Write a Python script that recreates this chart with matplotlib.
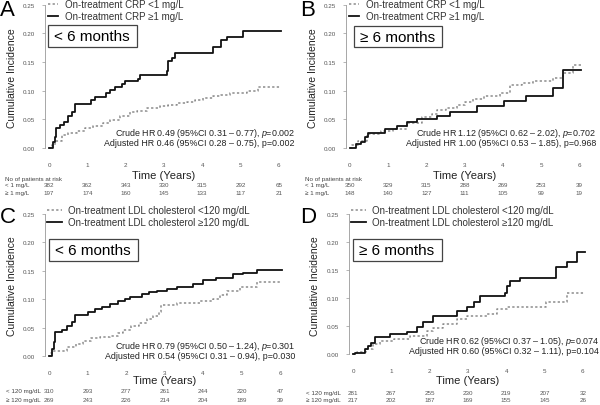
import matplotlib
matplotlib.use("Agg")
from matplotlib import pyplot as plt
from matplotlib import transforms
from matplotlib.patches import Rectangle

plt.rcParams['font.family'] = ['Liberation Sans', 'DejaVu Sans']
plt.rcParams['mathtext.fontset'] = 'custom'
plt.rcParams['mathtext.it'] = 'Liberation Sans:italic'
plt.rcParams['mathtext.rm'] = 'Liberation Sans'

# ---- data ----
years = [0, 1, 2, 3, 4, 5, 6]

a_hi_t = [0, 0.1, 0.15, 0.18, 0.3, 0.4, 0.5, 0.6, 0.68, 1.1, 1.2, 1.5, 1.6, 1.72, 1.9, 1.98, 2.33, 2.38,
          3.07, 3.1, 3.2, 3.29, 4.29, 4.5, 4.64, 5.07, 6.05]
a_hi_v = [0, 0.01, 0.02, 0.034, 0.04, 0.045, 0.055, 0.063, 0.077, 0.083, 0.089, 0.096, 0.101, 0.106, 0.111,
          0.116, 0.121, 0.128, 0.135, 0.151, 0.157, 0.165, 0.176, 0.188, 0.194, 0.203, 0.203]
a_lo_t = [0, 0.08, 0.15, 0.33, 0.5, 0.72, 0.95, 1.16, 1.4, 1.59, 1.85, 2.11, 2.3, 2.55, 2.9, 3.1, 3.33,
          3.6, 3.8, 4.03, 4.29, 4.5, 4.73, 5.17, 5.46, 6.05]
a_lo_v = [0, 0.006, 0.012, 0.022, 0.026, 0.03, 0.034, 0.039, 0.044, 0.048, 0.055, 0.062, 0.064, 0.07,
          0.073, 0.075, 0.078, 0.081, 0.084, 0.087, 0.09, 0.093, 0.096, 0.1, 0.107, 0.107]

b_hi_t = [0, 0.17, 0.3, 0.39, 0.48, 0.92, 1.22, 1.48, 1.75, 2.27, 2.62, 3.32, 4.02, 4.62, 5.32, 5.58, 6.04]
b_hi_v = [0, 0.007, 0.011, 0.019, 0.027, 0.033, 0.039, 0.045, 0.05, 0.056, 0.063, 0.073, 0.082, 0.09,
          0.104, 0.136, 0.136]
b_lo_t = [0, 0.05, 0.2, 0.44, 0.8, 1.13, 1.5, 1.88, 2.14, 2.27, 2.5, 2.79, 3.0, 3.23, 3.5, 3.93, 4.19,
          4.5, 4.8, 5.32, 5.58, 5.85, 6.05]
b_lo_v = [0, 0.005, 0.012, 0.025, 0.029, 0.033, 0.043, 0.054, 0.06, 0.066, 0.069, 0.075, 0.08, 0.086,
          0.09, 0.095, 0.109, 0.113, 0.117, 0.122, 0.13, 0.144, 0.144]

c_hi_t = [0, 0.08, 0.12, 0.16, 0.33, 0.46, 0.59, 0.68, 1.02, 1.2, 1.37, 1.58, 1.8, 1.98, 2.1, 2.41, 2.6,
          2.8, 3.06, 3.32, 3.75, 4.01, 4.35, 4.79, 5.05, 5.39, 6.05]
c_hi_v = [0, 0.012, 0.024, 0.042, 0.045, 0.053, 0.059, 0.072, 0.077, 0.082, 0.087, 0.092, 0.096, 0.1,
          0.104, 0.109, 0.112, 0.115, 0.118, 0.122, 0.127, 0.133, 0.138, 0.144, 0.147, 0.152, 0.152]
c_lo_t = [0, 0.05, 0.1, 0.46, 0.7, 0.89, 1.1, 1.32, 1.58, 1.8, 1.93, 2.14, 2.35, 2.54, 2.7, 2.85, 2.9,
          3.32, 3.92, 4.26, 4.45, 4.62, 4.96, 5.39, 6.05]
c_lo_v = [0, 0.005, 0.009, 0.015, 0.022, 0.027, 0.031, 0.033, 0.035, 0.04, 0.045, 0.053, 0.058, 0.065,
          0.07, 0.077, 0.089, 0.093, 0.097, 0.1, 0.108, 0.115, 0.122, 0.13, 0.13]

d_hi_t = [0, 0.05, 0.31, 0.4, 0.48, 0.57, 0.97, 1.4, 1.66, 1.84, 2.1, 2.71, 2.97, 3.15, 3.32, 3.97, 4.02,
          4.1, 4.36, 5.3, 5.58, 5.84, 6.06]
d_hi_v = [0, 0.003, 0.009, 0.015, 0.021, 0.03, 0.036, 0.04, 0.048, 0.057, 0.068, 0.078, 0.085, 0.094,
          0.104, 0.11, 0.122, 0.131, 0.136, 0.156, 0.164, 0.182, 0.182]
d_lo_t = [0, 0.1, 0.35, 0.52, 0.71, 1.06, 1.49, 1.92, 2.1, 2.35, 2.71, 2.97, 3.49, 3.75, 4.01, 5.05,
          5.58, 6.06]
d_lo_v = [0, 0.004, 0.01, 0.019, 0.024, 0.028, 0.032, 0.042, 0.047, 0.054, 0.063, 0.069, 0.072, 0.08,
          0.085, 0.093, 0.109, 0.109]

a_risk_lo = [382, 362, 343, 330, 315, 292, 65]
a_risk_hi = [197, 174, 160, 145, 133, 117, 21]
b_risk_lo = [350, 329, 315, 288, 269, 253, 39]
b_risk_hi = [148, 140, 127, 111, 105, 99, 19]
c_risk_lo = [310, 293, 277, 261, 244, 220, 47]
c_risk_hi = [269, 243, 226, 214, 204, 189, 39]
d_risk_lo = [281, 267, 255, 230, 219, 207, 32]
d_risk_hi = [217, 202, 187, 169, 155, 145, 26]

crp_labels = ['On-treatment CRP <1 mg/L', 'On-treatment CRP \u22651 mg/L']
ldl_labels = ['On-treatment LDL cholesterol <120 mg/dL', 'On-treatment LDL cholesterol \u2265120 mg/dL']
crp_rows = ['< 1 mg/L', '\u2265 1 mg/L']
ldl_rows = ['< 120 mg/dL', '\u2265 120 mg/dL']

hr_text = {
    'A': ['Crude HR 0.49 (95%CI 0.31 \u2013 0.77), $\\it{p}$=0.002', 'Adjusted HR 0.46 (95%CI 0.28 \u2013 0.75), p=0.002'],
    'B': ['Crude HR 1.12 (95%CI 0.62 \u2013 2.02), $\\it{p}$=0.702', 'Adjusted HR 1.00 (95%CI 0.53 \u2013 1.85), p=0.968'],
    'C': ['Crude HR 0.79 (95%CI 0.50 \u2013 1.24), $\\it{p}$=0.301', 'Adjusted HR 0.54 (95%CI 0.31 \u2013 0.94), p=0.030'],
    'D': ['Crude HR 0.62 (95%CI 0.37 \u2013 1.05), $\\it{p}$=0.074', 'Adjusted HR 0.60 (95%CI 0.32 \u2013 1.11), p=0.104'],
}

W, H = 600, 406
fig = plt.figure(figsize=(6, 4.06), dpi=100)


def fx(px):
    return px / W


def fy(py):
    return 1 - py / H


def panel(letter, x0, ppy, y0, ppu, hi, lo, labels, box, rows, risk, layout):
    # x0: pixel of t=0, ppy: pixels/year, y0: pixel of 0.00, ppu: pixels per unit
    left = x0 - 0.1 * ppy
    width = 6.2 * ppy
    top = y0 - 0.255 * ppu
    bottom = y0 + 0.005 * ppu
    ax = fig.add_axes([fx(left), fy(bottom), width / W, (bottom - top) / H])
    ax.set_xlim(-0.1, 6.1)
    ax.set_ylim(-0.005, 0.255)

    ax.step(lo[0], lo[1], where='post', color='#8c8c8c', lw=1.1, ls=(0, (1.5, 1.5)), label=labels[0])
    ax.step(hi[0], hi[1], where='post', color='#111111', lw=1.3, label=labels[1])

    for s in ['top', 'right', 'bottom']:
        ax.spines[s].set_visible(False)
    ax.spines['left'].set_color('#999999')
    ax.spines['left'].set_linewidth(0.6)
    ax.spines['left'].set_bounds(0, 0.25)
    ax.set_yticks([0, 0.05, 0.10, 0.15, 0.20, 0.25])
    ax.set_yticklabels(['0.00', '0.05', '0.10', '0.15', '0.20', '0.25'])
    ax.set_xticks(years)
    ax.tick_params(axis='y', labelsize=4.5, labelcolor='#555555', length=2, width=0.5,
                   color='#999999', pad=5)
    ax.tick_params(axis='x', labelsize=4.5, labelcolor='#555555', length=0, pad=layout['xpad'])
    ax.patch.set_alpha(0)

    ax.legend(loc='upper left', bbox_to_anchor=(fx(layout['leg_x']), fy(layout['leg_y'])),
              bbox_transform=fig.transFigure, frameon=False, fontsize=7,
              handlelength=layout['hl'], handletextpad=0.7, labelspacing=0.25,
              borderpad=0, borderaxespad=0, labelcolor='#333333')

    # panel letter
    fig.text(fx(layout['let_x']), fy(layout['let_y']), letter, fontsize=16, va='top', ha='left')

    # subgroup box
    bx0, by0, bx1, by1 = layout['box']
    fig.patches.append(Rectangle((fx(bx0), fy(by1)), (bx1 - bx0) / W, (by1 - by0) / H,
                                 transform=fig.transFigure, fill=False, ec='#444444', lw=0.9))
    fig.text(fx(bx0 + 6), fy((by0 + by1) / 2), box, fontsize=11, va='center', ha='left')

    # y label
    fig.text(fx(layout['ylab_x']), fy((top + y0) / 2 + 2), 'Cumulative Incidence', rotation=90,
             fontsize=7.5, va='center', ha='center', color='#222222')
    # x label
    fig.text(fx(x0 + 3 * ppy), fy(layout['xlab_y']), 'Time (Years)', fontsize=8,
             va='center', ha='center', color='#222222')

    # hazard ratio text
    for k, line in enumerate(hr_text[letter]):
        fig.text(fx(layout['hr_x']), fy(layout['hr_y'][k]), line, fontsize=6.4, ha='right',
                 va='center', color='#222222')

    # numbers at risk
    tr = transforms.blended_transform_factory(ax.transData, fig.transFigure)
    if layout['risk_title']:
        fig.text(fx(layout['row_x']), fy(layout['title_y']), 'No of patients at risk',
                 fontsize=4.5, va='center', ha='left', color='#444444')
    for r in range(2):
        fig.text(fx(layout['row_x']), fy(layout['rows_y'][r]), rows[r], fontsize=4.5,
                 va='center', ha='left', color='#444444')
        for yr, n in zip(years, risk[r]):
            ax.text(yr, fy(layout['rows_y'][r]), str(n), transform=tr, fontsize=4.5,
                    va='center', ha='center', color='#555555', clip_on=False)
    return ax


panel('A', 49, 38.3, 149, 574, (a_hi_t, a_hi_v), (a_lo_t, a_lo_v), crp_labels, '< 6 months',
      crp_rows, (a_risk_lo, a_risk_hi),
      dict(xpad=8, leg_x=48, leg_y=0, hl=1.0, let_x=0, let_y=0, box=(48, 26, 137, 48),
           ylab_x=12, xlab_y=176, hr_x=295, hr_y=(133, 143.5), risk_title=True, row_x=5,
           title_y=179, rows_y=(186, 193.5)))
panel('B', 350, 38.2, 149, 574, (b_hi_t, b_hi_v), (b_lo_t, b_lo_v), crp_labels, '\u2265 6 months',
      crp_rows, (b_risk_lo, b_risk_hi),
      dict(xpad=8, leg_x=349, leg_y=0, hl=1.0, let_x=300, let_y=0, box=(354, 27, 442, 48),
           ylab_x=313, xlab_y=176, hr_x=596, hr_y=(133, 143.5), risk_title=True, row_x=305,
           title_y=179, rows_y=(186, 193.5)))
panel('C', 49, 38.5, 357, 568, (c_hi_t, c_hi_v), (c_lo_t, c_lo_v), ldl_labels, '< 6 months',
      ldl_rows, (c_risk_lo, c_risk_hi),
      dict(xpad=8, leg_x=47, leg_y=206, hl=1.5, let_x=0, let_y=207, box=(49, 240, 138, 262),
           ylab_x=12, xlab_y=381, hr_x=295, hr_y=(346.5, 357), risk_title=False, row_x=6,
           rows_y=(391.5, 400.5)))
panel('D', 353, 38.3, 355.3, 561, (d_hi_t, d_hi_v), (d_lo_t, d_lo_v), ldl_labels, '\u2265 6 months',
      ldl_rows, (d_risk_lo, d_risk_hi),
      dict(xpad=8, leg_x=351, leg_y=206, hl=1.5, let_x=300, let_y=207, box=(353, 240, 442, 262),
           ylab_x=315, xlab_y=381, hr_x=599, hr_y=(341.5, 352), risk_title=False, row_x=306,
           rows_y=(394, 401)))

plt.savefig('out.png', dpi=100)
